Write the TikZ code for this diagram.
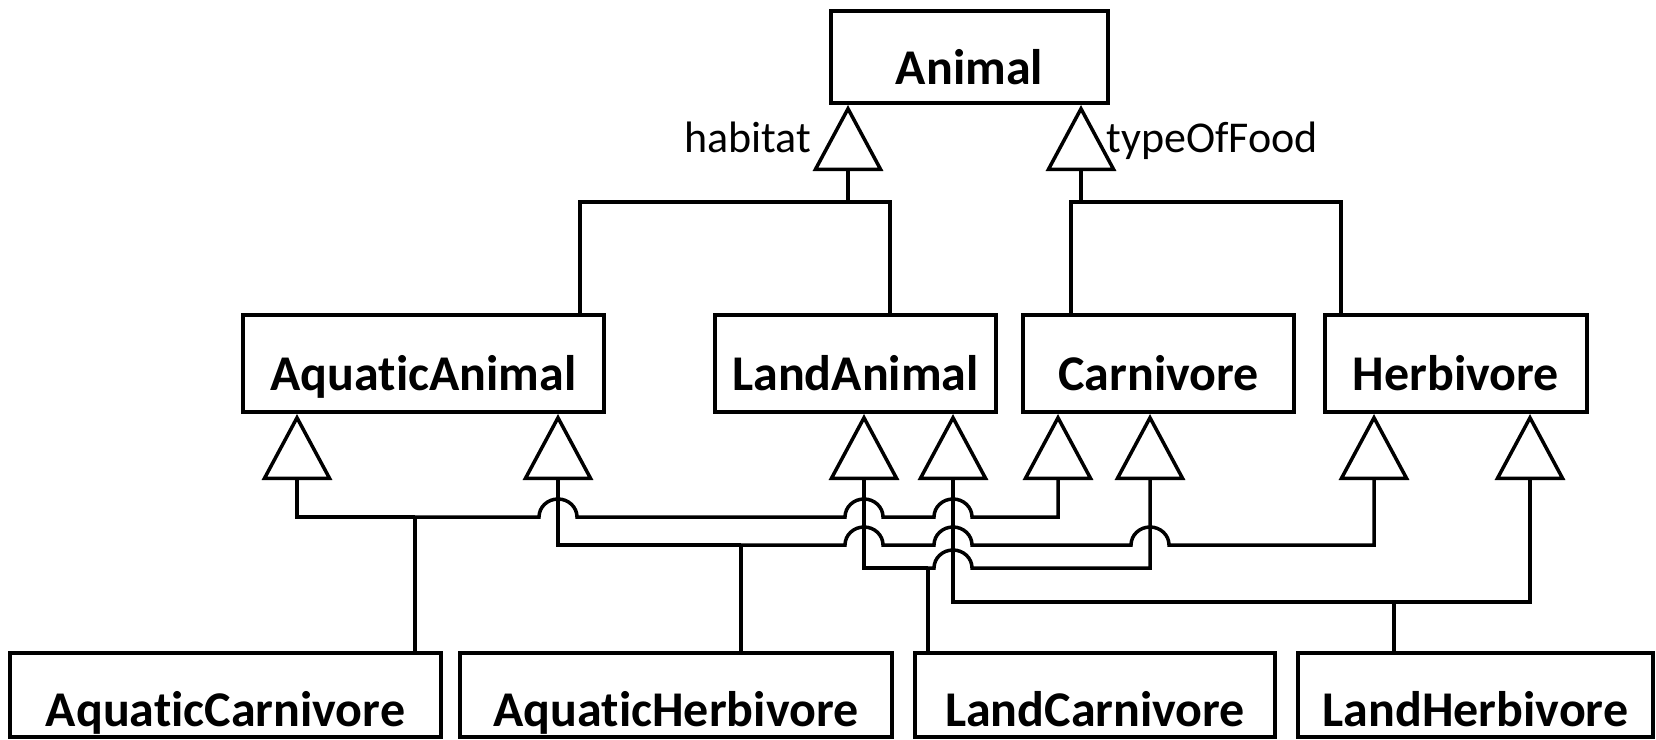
\documentclass[tikz,border=0pt]{standalone}
\usepackage{fontspec}
\setmainfont{Carlito}[Ligatures=NoCommon]
\usetikzlibrary{arrows.meta}

\begin{document}
\begin{tikzpicture}[
    x=1pt, y=-1pt,  % one unit per pixel of the sketch, y runs down
    line width=3.5pt,
    cls/.style = {draw, line width=4pt, inner sep=0pt, text height=73pt,
      font=\fontsize{50}{60}\selectfont\bfseries},
    rootbox/.style = {cls, text depth=19pt},
    midbox/.style = {cls, text height=75pt, text depth=22pt},
    leafbox/.style = {cls, text depth=11pt},
    gen/.style = {-{Triangle[open, length=66pt, width=70pt]}},
    hop/.style = {insert path={arc[start angle=180, end angle=0, x radius=19pt, y radius=18pt]}},
    role/.style = {inner sep=0pt, font=\fontsize{44}{52}\selectfont}
  ]
    \useasboundingbox (0,0) rectangle (1656,739);

    \node[rootbox, minimum width=277pt] (animal) at (969.5,57) {Animal};
    \node[role, anchor=base east] (habitat) at (813,152) {habitat};
    \node[role, anchor=base west] (food) at (1105,152) {typeOfFood};

    \node[midbox, minimum width=361pt] (aquatic) at (423.5,363.5) {AquaticAnimal};
    \node[midbox, minimum width=281pt] (land) at (855.5,363.5) {LandAnimal};
    \node[midbox, minimum width=271pt] (carnivore) at (1158.5,363.5) {Carnivore};
    \node[midbox, minimum width=262pt] (herbivore) at (1456,363.5) {Herbivore};

    \node[leafbox, minimum width=431pt] (aqcarn) at (225.5,695) {AquaticCarnivore};
    \node[leafbox, minimum width=432pt] (aqherb) at (676,695) {AquaticHerbivore};
    \node[leafbox, minimum width=360pt] (landcarn) at (1095,695) {LandCarnivore};
    \node[leafbox, minimum width=355pt] (landherb) at (1475.5,695) {LandHerbivore};

    \coordinate (hab) at (848,202);
    \coordinate (tof) at (1081,202);
    \coordinate (j1) at (415,517);
    \coordinate (j2) at (741,545);
    \coordinate (j3) at (928,568);
    \coordinate (j4) at (1394,602);

    % habitat
    \draw[gen] (hab) -- (animal.south -| hab);
    \draw (aquatic.north -| 580,0) |- (hab);
    \draw (land.north -| 890,0) |- (hab);
    % typeOfFood
    \draw[gen] (tof) -- (animal.south -| tof);
    \draw (carnivore.north -| 1071,0) |- (tof);
    \draw (herbivore.north -| 1341,0) |- (tof);

    % AquaticCarnivore
    \draw (aqcarn.north -| j1) -- (j1);
    \draw[gen] (j1) -| (aquatic.south -| 297,0);
    \draw[gen] (j1) -- (539,517) [hop] -- (845,517) [hop] -- (934,517) [hop] -| (carnivore.south -| 1058,0);
    % AquaticHerbivore
    \draw (aqherb.north -| j2) -- (j2);
    \draw[gen] (j2) -| (aquatic.south -| 558,0);
    \draw[gen] (j2) -- (845,545) [hop] -- (934,545) [hop] -- (1131,545) [hop] -| (herbivore.south -| 1374,0);
    % LandCarnivore
    \draw (landcarn.north -| j3) -- (j3);
    \draw[gen] (j3) -| (land.south -| 864,0);
    \draw[gen] (j3) -- (934,568) [hop] -| (carnivore.south -| 1150,0);
    % LandHerbivore
    \draw (landherb.north -| j4) -- (j4);
    \draw[gen] (j4) -| (land.south -| 953,0);
    \draw[gen] (j4) -| (herbivore.south -| 1530,0);
\end{tikzpicture}
\end{document}
